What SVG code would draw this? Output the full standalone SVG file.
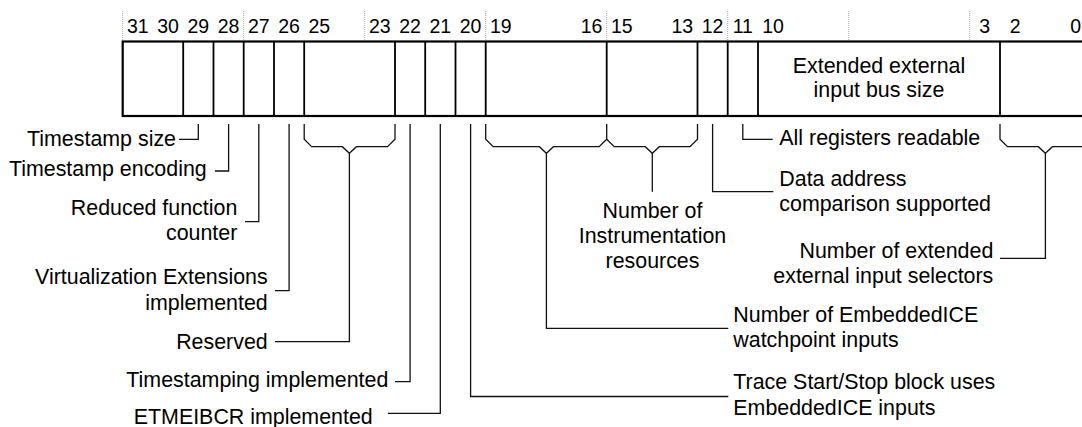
<svg xmlns="http://www.w3.org/2000/svg" width="1082" height="427" viewBox="0 0 1082 427">
<style>
.t{font-family:"Liberation Sans",Arial,sans-serif;font-size:21.4px;fill:#000}
.n{font-family:"Liberation Sans",Arial,sans-serif;font-size:19.5px;fill:#000;text-anchor:middle}
.e{text-anchor:end}
.m{text-anchor:middle}
.box{fill:#fff;stroke:#000;stroke-width:2.2}
.div{stroke:#000;stroke-width:1.8;fill:none}
.dot{stroke:#aaa;stroke-width:1;stroke-dasharray:1 1;fill:none}
.c{stroke:#111;stroke-width:1.3;fill:none}
</style>
<rect width="1082" height="427" fill="#fff"/>
<g id="ticks">
<path class="dot" d="M122.7 11V41M243.7 11V41M364.7 11V41M485.7 11V41M606.7 11V41M727.7 11V41M848.7 11V41M969.7 11V41"/>
</g>
<g id="bit-numbers">
<text class="n" x="137.8" y="32.5">31</text>
<text class="n" x="168.1" y="32.5">30</text>
<text class="n" x="198.3" y="32.5">29</text>
<text class="n" x="228.6" y="32.5">28</text>
<text class="n" x="258.8" y="32.5">27</text>
<text class="n" x="289.1" y="32.5">26</text>
<text class="n" x="319.3" y="32.5">25</text>
<text class="n" x="379.8" y="32.5">23</text>
<text class="n" x="410.1" y="32.5">22</text>
<text class="n" x="440.3" y="32.5">21</text>
<text class="n" x="470.6" y="32.5">20</text>
<text class="n" x="500.8" y="32.5">19</text>
<text class="n" x="591.6" y="32.5">16</text>
<text class="n" x="621.8" y="32.5">15</text>
<text class="n" x="682.3" y="32.5">13</text>
<text class="n" x="712.6" y="32.5">12</text>
<text class="n" x="742.8" y="32.5">11</text>
<text class="n" x="773.1" y="32.5">10</text>
<text class="n" x="984.8" y="32.5">3</text>
<text class="n" x="1015.1" y="32.5">2</text>
<text class="n" x="1075.6" y="32.5">0</text>
</g>
<g id="register">
<rect class="box" x="122.7" y="41.5" width="968" height="74.5"/>
<path class="div" d="M183.2 41.5V116M213.5 41.5V116M243.7 41.5V116M274 41.5V116M304.2 41.5V116M395 41.5V116M425.2 41.5V116M455.5 41.5V116M485.7 41.5V116M606.7 41.5V116M697.5 41.5V116M727.7 41.5V116M758 41.5V116M1000 41.5V116"/>
</g>
<g id="field-ext-bus-size">
<text class="t m" x="879" y="72.5">Extended external</text>
<text class="t m" x="879" y="96.5">input bus size</text>
</g>
<g id="connectors">
<path class="c" d="M198.3 124V139.3H179"/>
<path class="c" d="M228.6 124V171H215"/>
<path class="c" d="M258.8 124V221.7H245"/>
<path class="c" d="M289.1 124V290.7H275"/>
<path class="c" d="M304.2 124V139.3L311.7 146.7H342.4L349.4 153.3L356.4 146.7H387.5L395 139.3V124"/>
<path class="c" d="M349.4 153.3V341.7H275"/>
<path class="c" d="M410.1 124V381.7H395"/>
<path class="c" d="M440.3 124V413.3H388"/>
<path class="c" d="M470.6 124V396.5H728.3"/>
<path class="c" d="M485.7 124V139.3L493.2 146.7H539.4L546.4 153.3L553.4 146.7H599.2L606.7 139.3V124"/>
<path class="c" d="M546.4 153.3V328.3H728.3"/>
<path class="c" d="M606.7 139.3L614.2 146.7H645.3L652.3 153.3L659.3 146.7H690L697.5 139.3V124"/>
<path class="c" d="M652.3 153.3V191.7"/>
<path class="c" d="M712.6 124V191.7H773.3"/>
<path class="c" d="M742.8 124V139.3H772.7"/>
<path class="c" d="M1000 124V139.3L1007.5 146.7H1038.4L1045.4 153.3L1052.4 146.7H1083.2L1090.7 139.3V124"/>
<path class="c" d="M1045.4 153.3V258.3H1000"/>
</g>
<g id="lbl-timestamp-size"><text class="t e" x="176" y="145.7">Timestamp size</text></g>
<g id="lbl-timestamp-encoding"><text class="t e" x="206.7" y="175.7">Timestamp encoding</text></g>
<g id="lbl-reduced-function-counter"><text class="t e" x="237.3" y="215">Reduced function</text><text class="t e" x="237.3" y="240">counter</text></g>
<g id="lbl-virtualization"><text class="t e" x="267.7" y="284">Virtualization Extensions</text><text class="t e" x="267.7" y="309.5">implemented</text></g>
<g id="lbl-reserved"><text class="t e" x="267.7" y="349.3">Reserved</text></g>
<g id="lbl-timestamping"><text class="t e" x="388.3" y="387.3">Timestamping implemented</text></g>
<g id="lbl-etmeibcr"><text class="t e" x="372.7" y="424">ETMEIBCR implemented</text></g>
<g id="lbl-trace-start-stop"><text class="t" x="733.3" y="389.3">Trace Start/Stop block uses</text><text class="t" x="733.3" y="415">EmbeddedICE inputs</text></g>
<g id="lbl-embeddedice-watchpoint"><text class="t" x="733.3" y="321.7">Number of EmbeddedICE</text><text class="t" x="733.3" y="347.3">watchpoint inputs</text></g>
<g id="lbl-instrumentation"><text class="t m" x="652.5" y="218.3">Number of</text><text class="t m" x="652.5" y="243.3">Instrumentation</text><text class="t m" x="652.5" y="268.3">resources</text></g>
<g id="lbl-data-address"><text class="t" x="779.3" y="186">Data address</text><text class="t" x="779.3" y="210.5">comparison supported</text></g>
<g id="lbl-all-registers"><text class="t" x="779.3" y="145">All registers readable</text></g>
<g id="lbl-ext-input-selectors"><text class="t e" x="993.3" y="258">Number of extended</text><text class="t e" x="993.3" y="282.5">external input selectors</text></g>
</svg>
